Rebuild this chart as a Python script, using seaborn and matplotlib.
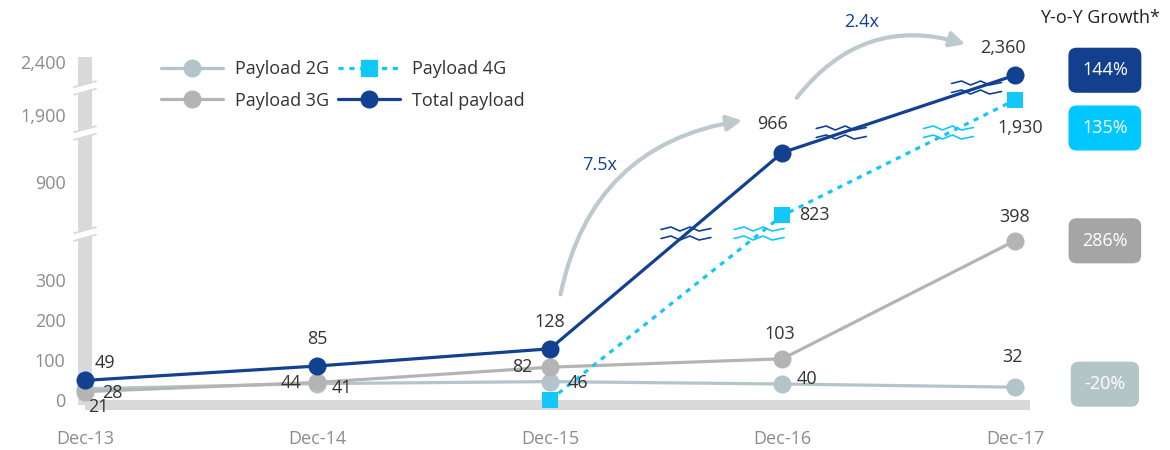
import numpy as np
import pandas as pd
import matplotlib.pyplot as plt
import seaborn as sns
from matplotlib.lines import Line2D
from matplotlib.transforms import IdentityTransform

# data
months = ['Dec-13', 'Dec-14', 'Dec-15', 'Dec-16', 'Dec-17']
payload_2g = [28, 41, 46, 40, 32]
payload_3g = [21, 44, 82, 103, 398]
payload_4g = [np.nan, np.nan, 0, 823, 1930]
total_payload = [49, 85, 128, 966, 2360]
series_names = ['Payload 2G', 'Payload 3G', 'Payload 4G', 'Total payload']
yoy_growth = ['-20%', '286%', '135%', '144%']
y_ticks = [0, 100, 200, 300, 900, 1900, 2400]

colors = {'Payload 2G': '#B3C5CA', 'Payload 3G': '#B4B4B4',
          'Payload 4G': '#12C8FA', 'Total payload': '#124191'}
badge_colors = {'Payload 2G': '#B4C5C8', 'Payload 3G': '#A5A5A5',
                'Payload 4G': '#00C8FF', 'Total payload': '#12408F'}
axis_gray = '#D9D9D9'
text_dark = '#333333'

# broken y axis: value -> pixel height above the zero line
knots_val = [-50, 0, 405, 790, 990, 1880, 1950, 2330, 2450]
knots_px = [-20, 0, 162, 170, 258, 275, 310, 315, 354]
break_levels = [166, 267, 312]


def fwd(v):
    return np.interp(v, knots_val, knots_px)


def inv(p):
    return np.interp(p, knots_px, knots_val)


df = pd.DataFrame({
    'x': np.tile(np.arange(len(months)), 4),
    'series': np.repeat(series_names, len(months)),
    'value': payload_2g + payload_3g + payload_4g + total_payload,
})

sns.set_style('white')
plt.rcParams['font.family'] = ['Open Sans', 'DejaVu Sans']

fig = plt.figure(figsize=(11.7, 4.5), dpi=100)
ax = fig.add_axes([85 / 1170, 45 / 450, 945 / 1170, 348 / 450])
ax.set_yscale('function', functions=(fwd, inv))

sns.lineplot(data=df, x='x', y='value', hue='series', style='series',
             hue_order=series_names, style_order=series_names,
             palette=colors,
             markers={'Payload 2G': 'o', 'Payload 3G': 'o',
                      'Payload 4G': 's', 'Total payload': 'o'},
             dashes={'Payload 2G': '', 'Payload 3G': '',
                     'Payload 4G': (1.6, 1.8), 'Total payload': ''},
             linewidth=2.3, markersize=13, markeredgewidth=0,
             estimator=None, legend=False, ax=ax)
for ln in ax.lines:
    ln.set_zorder(3)
    ln.set_clip_on(False)
    if ln.get_marker() == 's':
        ln.set_markersize(11.5)

ax.set_xlim(0, 4.065)
ax.set_ylim(inv(-5), inv(343))
ax.set_xticks(range(len(months)))
ax.set_xticklabels(months)
ax.set_yticks(y_ticks)
ax.set_yticklabels([f'{t:,}' for t in y_ticks])
ax.yaxis.set_minor_locator(plt.NullLocator())
ax.set_xlabel('')
ax.set_ylabel('')
ax.tick_params(axis='both', length=0, labelsize=13, labelcolor='#8C8C8C')
ax.tick_params(axis='x', pad=18)
ax.tick_params(axis='y', pad=14)
sns.despine(ax=ax, top=True, right=True)
ax.spines['left'].set_linewidth(10)
ax.spines['left'].set_color(axis_gray)
ax.spines['bottom'].set_linewidth(7.2)
ax.spines['bottom'].set_color(axis_gray)
ax.spines['left'].set_capstyle('butt')
ax.spines['bottom'].set_capstyle('butt')

# data labels (offsets in pixels)
label_offsets = {
    'Total payload': [(20, 17), (0, 27), (0, 27), (-10, 29), (-12, 27)],
    'Payload 3G': [(13, -15), (-26, -1), (-28, 0), (-3, 25), (0, 24)],
    'Payload 2G': [(27, -4), (24, -4), (28, -1), (25, 5), (-2, 30)],
    'Payload 4G': [None, None, None, (32, 0), (5, -28)],
}
for name, vals in zip(series_names, [payload_2g, payload_3g, payload_4g, total_payload]):
    for i, v in enumerate(vals):
        off = label_offsets[name][i]
        if off is None or np.isnan(v):
            continue
        ax.annotate(f'{int(v):,}', (i, v), xytext=off, textcoords='offset pixels',
                    ha='center', va='center', fontsize=13, color=text_dark, zorder=5)

# legend
handles = []
for name in series_names:
    if name == 'Payload 4G':
        h = Line2D([], [], color=colors[name], lw=2.3, marker='s', markersize=11,
                   dashes=(1.6, 1.8))
    else:
        h = Line2D([], [], color=colors[name], lw=2.3, marker='o', markersize=12)
    handles.append(h)
ax.legend(handles, series_names, ncol=2, loc='upper left', frameon=False,
          bbox_to_anchor=(145 / 1170, 1 - 44 / 450), bbox_transform=fig.transFigure,
          fontsize=13, handlelength=3.4, columnspacing=0.5, labelspacing=0.75,
          handletextpad=0.7, labelcolor=text_dark)

fig.canvas.draw()


def px(x, v):
    return ax.transData.transform((x, v))


# axis break marks on the left spine
x0 = px(0, 0)[0]
for b in break_levels:
    yb = px(0, inv(b))[1]
    fig.add_artist(Line2D([x0 - 9, x0 + 9], [yb - 2.5, yb + 2.5], lw=4.5, color='white',
                          transform=IdentityTransform(), zorder=6))
    for d in (-3.8, 3.8):
        fig.add_artist(Line2D([x0 - 11, x0 + 11], [yb + d - 3, yb + d + 3], lw=1.3,
                              color=axis_gray, transform=IdentityTransform(), zorder=6))

# break marks where lines cross the axis breaks
zig_x = np.array([-25, -15, -6, 4, 13, 25])
zig_y = np.array([0, 2.5, -1.5, 2.5, -1.5, 1])
for name, vals in [('Payload 4G', payload_4g), ('Total payload', total_payload)]:
    for i in range(len(vals) - 1):
        if np.isnan(vals[i]) or np.isnan(vals[i + 1]):
            continue
        p1, p2 = px(i, vals[i]), px(i + 1, vals[i + 1])
        for b in break_levels:
            yb = px(0, inv(b))[1]
            if min(p1[1], p2[1]) < yb < max(p1[1], p2[1]):
                xb = p1[0] + (yb - p1[1]) / (p2[1] - p1[1]) * (p2[0] - p1[0])
                for d in (-4.5, 4.5):
                    fig.add_artist(Line2D(xb + zig_x, yb + d + zig_y, lw=1.2,
                                          color=colors[name],
                                          transform=IdentityTransform(), zorder=6))

# growth arrows
arrow_color = '#BCCACE'
ax.annotate('', xy=(745, 330), xytext=(560, 153), xycoords='figure pixels',
            textcoords='figure pixels',
            arrowprops=dict(arrowstyle='-|>,head_length=0.9,head_width=0.45',
                            color=arrow_color, lw=3, connectionstyle='arc3,rad=-0.35'))
ax.annotate('', xy=(968, 405), xytext=(795, 350), xycoords='figure pixels',
            textcoords='figure pixels',
            arrowprops=dict(arrowstyle='-|>,head_length=0.9,head_width=0.45',
                            color=arrow_color, lw=3, connectionstyle='arc3,rad=-0.35'))
fig.text(600 / 1170, 1 - 165 / 450, '7.5x', ha='center', va='center', fontsize=13,
         color=colors['Total payload'])
fig.text(862 / 1170, 1 - 22 / 450, '2.4x', ha='center', va='center', fontsize=13,
         color=colors['Total payload'])

# Y-o-Y growth badges
fig.text(1100 / 1170, 1 - 18 / 450, 'Y-o-Y Growth*', ha='center', va='center',
         fontsize=13, color='#222222')
badge_dy = {'Payload 2G': 3, 'Payload 3G': 0, 'Payload 4G': -28, 'Total payload': 5}
last_vals = [payload_2g[-1], payload_3g[-1], payload_4g[-1], total_payload[-1]]
for name, v, g in zip(series_names, last_vals, yoy_growth):
    ax.annotate(g, (4, v), xytext=(90, badge_dy[name]), textcoords='offset pixels',
                ha='center', va='center', fontsize=13, color='white',
                annotation_clip=False,
                bbox=dict(boxstyle='round,pad=0.75,rounding_size=0.45',
                          fc=badge_colors[name], ec='none'))

fig.savefig('out.png', dpi=100)
